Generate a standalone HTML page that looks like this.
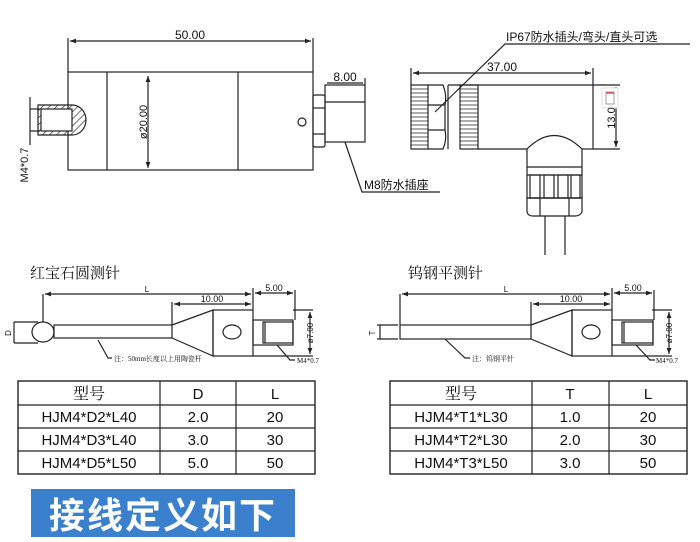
<!DOCTYPE html>
<html><head><meta charset="utf-8"><style>
html,body{margin:0;padding:0;background:#fff;}
svg{display:block;}
text{font-family:"Liberation Sans","Noto Sans CJK SC",sans-serif;fill:#111;}
.s{font-family:"Liberation Serif","Noto Serif CJK SC",serif;}
</style></head><body>
<svg width="700" height="542" viewBox="0 0 700 542" xmlns="http://www.w3.org/2000/svg">
<defs>
<pattern id="h" width="5" height="5" patternUnits="userSpaceOnUse" patternTransform="rotate(45)"><line x1="0" y1="0" x2="0" y2="5" stroke="#222" stroke-width="1.3"/></pattern>
<marker id="a" markerWidth="6" markerHeight="6" refX="5" refY="3" orient="auto-start-reverse"><path d="M0,1 L5,3 L0,5" fill="#222"/></marker>
</defs>
<g stroke="#222" stroke-width="1.2" fill="none">
<rect x="68" y="72" width="245" height="98"/>
<line x1="107" y1="72" x2="107" y2="170"/>
<line x1="238" y1="72" x2="238" y2="170"/>
<line x1="148" y1="76" x2="148" y2="168" marker-start="url(#a)" marker-end="url(#a)"/>
<circle cx="302" cy="122" r="4"/>
<line x1="68" y1="72" x2="68" y2="38"/><line x1="313" y1="72" x2="313" y2="38"/>
<line x1="70" y1="41" x2="311" y2="41" marker-start="url(#a)" marker-end="url(#a)"/>
<path d="M38,105 H72 A14,15 0 0 1 72,135 H38 Z" fill="url(#h)"/>
<rect x="41" y="109" width="31" height="22" fill="#fff"/>
<line x1="30" y1="97" x2="30" y2="145"/>
<line x1="30" y1="109" x2="40" y2="109"/><line x1="30" y1="131" x2="40" y2="131"/>
<rect x="313" y="95" width="12" height="52" rx="2"/>
<line x1="313" y1="108" x2="325" y2="108"/><line x1="313" y1="134" x2="325" y2="134"/>
<rect x="325" y="85" width="40" height="57"/>
<line x1="325" y1="102" x2="365" y2="102"/>
<line x1="365" y1="85" x2="365" y2="78"/>
<line x1="327" y1="83" x2="363" y2="83"/>
<polyline points="345,142 362,192 440,192"/>
<rect x="411" y="85" width="17" height="64"/>
<g stroke-width="0.8">
<line x1="411" y1="89" x2="428" y2="89"/><line x1="411" y1="93" x2="428" y2="93"/><line x1="411" y1="97" x2="428" y2="97"/><line x1="411" y1="101" x2="428" y2="101"/><line x1="411" y1="105" x2="428" y2="105"/><line x1="411" y1="109" x2="428" y2="109"/><line x1="411" y1="113" x2="428" y2="113"/><line x1="411" y1="117" x2="428" y2="117"/><line x1="411" y1="121" x2="428" y2="121"/><line x1="411" y1="125" x2="428" y2="125"/><line x1="411" y1="129" x2="428" y2="129"/><line x1="411" y1="133" x2="428" y2="133"/><line x1="411" y1="137" x2="428" y2="137"/><line x1="411" y1="141" x2="428" y2="141"/><line x1="411" y1="145" x2="428" y2="145"/>
<line x1="460" y1="89" x2="478" y2="89"/><line x1="460" y1="93" x2="478" y2="93"/><line x1="460" y1="97" x2="478" y2="97"/><line x1="460" y1="101" x2="478" y2="101"/><line x1="460" y1="105" x2="478" y2="105"/><line x1="460" y1="109" x2="478" y2="109"/><line x1="460" y1="113" x2="478" y2="113"/><line x1="460" y1="117" x2="478" y2="117"/><line x1="460" y1="121" x2="478" y2="121"/><line x1="460" y1="125" x2="478" y2="125"/><line x1="460" y1="129" x2="478" y2="129"/><line x1="460" y1="133" x2="478" y2="133"/><line x1="460" y1="137" x2="478" y2="137"/><line x1="460" y1="141" x2="478" y2="141"/><line x1="460" y1="145" x2="478" y2="145"/>
</g>
<rect x="460" y="85" width="18" height="64"/>
<path d="M428,85 H443 Q447,95 445,105 V130 Q447,140 443,149 H428"/>
<line x1="428" y1="105" x2="445" y2="105"/><line x1="428" y1="130" x2="445" y2="130"/>
<line x1="448" y1="85" x2="448" y2="149"/>
<line x1="448" y1="85" x2="593" y2="85"/><line x1="478" y1="149" x2="527" y2="149"/><line x1="582" y1="149" x2="593" y2="149"/>
<line x1="593" y1="85" x2="593" y2="149"/>
<line x1="593" y1="85" x2="620" y2="85"/><line x1="593" y1="149" x2="620" y2="149"/>
<line x1="616" y1="87" x2="616" y2="147" marker-end="url(#a)"/>
<line x1="411" y1="85" x2="411" y2="68"/><line x1="593" y1="85" x2="593" y2="68"/>
<line x1="413" y1="73" x2="591" y2="73" marker-start="url(#a)" marker-end="url(#a)"/>
<path d="M527,149 Q554,122 582,149 V198 H527 Z"/>
<line x1="527" y1="167" x2="582" y2="167"/>
<line x1="527" y1="175" x2="582" y2="175"/>
<rect x="530" y="175" width="10" height="23"/><rect x="544" y="175" width="10" height="23"/><rect x="558" y="175" width="10" height="23"/><rect x="571" y="175" width="9" height="23"/>
<path d="M527,198 H582 V212 Q580,216 575,216 H533 Q528,216 527,212 Z"/>
<line x1="540" y1="198" x2="540" y2="216"/><line x1="569" y1="198" x2="569" y2="216"/>
<path d="M545,216 V255 M565,216 V255"/>
<polyline points="435,112 505,44 690,44"/>
<ellipse cx="43" cy="332" rx="11" ry="10"/>
<rect x="54" y="325" width="118" height="13"/>
<path d="M172,325 L213,310 V356 L172,338"/>
<rect x="213" y="310" width="40" height="46"/>
<ellipse cx="232" cy="332" rx="9" ry="7"/>
<rect x="253" y="320" width="40" height="25"/>
<rect x="263" y="322" width="30" height="21"/>
<line x1="265" y1="322" x2="265" y2="343"/>
<line x1="43" y1="322" x2="43" y2="294"/>
<line x1="45" y1="294" x2="251" y2="294" marker-start="url(#a)" marker-end="url(#a)"/>
<line x1="172" y1="325" x2="172" y2="302"/><line x1="253" y1="310" x2="253" y2="288"/>
<line x1="174" y1="304" x2="251" y2="304" marker-start="url(#a)" marker-end="url(#a)"/>
<line x1="295" y1="320" x2="295" y2="290"/>
<line x1="255" y1="293" x2="293" y2="293" marker-start="url(#a)" marker-end="url(#a)"/>
<line x1="293" y1="310" x2="313" y2="310"/><line x1="253" y1="356" x2="313" y2="356"/>
<line x1="310" y1="312" x2="310" y2="354" marker-start="url(#a)" marker-end="url(#a)"/>
<line x1="14" y1="322" x2="38" y2="322"/><line x1="14" y1="343" x2="38" y2="343"/><line x1="14" y1="322" x2="14" y2="343"/>
<polyline points="98,340 108,358 112,358"/>
<polyline points="277,345 290,360 295,360"/>
<rect x="400" y="325" width="131" height="14"/>
<path d="M531,325 L572,310 V356 L531,339"/>
<rect x="572" y="310" width="40" height="46"/>
<ellipse cx="591" cy="332" rx="9" ry="7"/>
<rect x="612" y="320" width="41" height="25"/>
<rect x="622" y="322" width="31" height="21"/>
<line x1="624" y1="322" x2="624" y2="343"/>
<line x1="400" y1="325" x2="400" y2="294"/>
<line x1="402" y1="294" x2="610" y2="294" marker-start="url(#a)" marker-end="url(#a)"/>
<line x1="531" y1="325" x2="531" y2="302"/><line x1="612" y1="310" x2="612" y2="288"/>
<line x1="533" y1="304" x2="610" y2="304" marker-start="url(#a)" marker-end="url(#a)"/>
<line x1="654" y1="320" x2="654" y2="290"/>
<line x1="614" y1="293" x2="652" y2="293" marker-start="url(#a)" marker-end="url(#a)"/>
<line x1="652" y1="310" x2="672" y2="310"/><line x1="612" y1="356" x2="672" y2="356"/>
<line x1="669" y1="312" x2="669" y2="354" marker-start="url(#a)" marker-end="url(#a)"/>
<line x1="377" y1="325" x2="398" y2="325"/><line x1="377" y1="339" x2="398" y2="339"/><line x1="380" y1="325" x2="380" y2="339"/>
<polyline points="445,339 465,358 470,358"/>
<polyline points="636,345 650,360 655,360"/>
<rect x="18" y="381" width="297" height="93" stroke-width="1.4"/>
<line x1="18" y1="405" x2="315" y2="405"/><line x1="18" y1="428" x2="315" y2="428"/><line x1="18" y1="451" x2="315" y2="451"/>
<line x1="160" y1="381" x2="160" y2="474"/><line x1="236" y1="381" x2="236" y2="474"/>
<rect x="390" y="381" width="297" height="93" stroke-width="1.4"/>
<line x1="390" y1="405" x2="687" y2="405"/><line x1="390" y1="428" x2="687" y2="428"/><line x1="390" y1="451" x2="687" y2="451"/>
<line x1="532" y1="381" x2="532" y2="474"/><line x1="609" y1="381" x2="609" y2="474"/>
</g>
<rect x="602" y="88" width="16" height="20" fill="#fff" stroke="#ddd"/>
<rect x="606" y="92" width="8" height="12" fill="none" stroke="#888" stroke-width="0.8"/>
<line x1="606" y1="93" x2="614" y2="93" stroke="#d33" stroke-width="1.2"/>
<text x="190" y="39" font-size="12" text-anchor="middle">50.00</text>
<text x="345" y="81" font-size="12" text-anchor="middle">8.00</text>
<text x="147" y="122" font-size="11" text-anchor="middle" transform="rotate(-90 147 122)">ø20.00</text>
<text x="28" y="165" font-size="11" text-anchor="middle" transform="rotate(-90 28 165)">M4*0.7</text>
<text x="364" y="189" font-size="12">M8防水插座</text>
<text x="502" y="71" font-size="12" text-anchor="middle">37.00</text>
<text x="615" y="118" font-size="11" text-anchor="middle" transform="rotate(-90 615 118)">13.0</text>
<text x="506" y="41" font-size="12">IP67防水插头/弯头/直头可选</text>
<text x="30" y="278" font-size="15" class="s">红宝石圆测针</text>
<text x="408" y="278" font-size="15" class="s">钨钢平测针</text>
<text x="147" y="292" font-size="8" text-anchor="middle">L</text>
<text x="212" y="302" font-size="9" text-anchor="middle">10.00</text>
<text x="274" y="291" font-size="9" text-anchor="middle">5.00</text>
<text x="313" y="333" font-size="8" text-anchor="middle" transform="rotate(-90 313 333)">ø7.00</text>
<text x="11" y="333" font-size="8" text-anchor="middle" transform="rotate(-90 11 333)">D</text>
<text x="114" y="361" font-size="7" class="s">注：50mm长度以上用陶瓷杆</text>
<text x="297" y="363" font-size="7" class="s">M4*0.7</text>
<text x="506" y="292" font-size="8" text-anchor="middle">L</text>
<text x="571" y="302" font-size="9" text-anchor="middle">10.00</text>
<text x="633" y="291" font-size="9" text-anchor="middle">5.00</text>
<text x="672" y="333" font-size="8" text-anchor="middle" transform="rotate(-90 672 333)">ø7.00</text>
<text x="375" y="333" font-size="8" text-anchor="middle" transform="rotate(-90 375 333)">T</text>
<text x="472" y="361" font-size="7" class="s">注：钨钢平针</text>
<text x="656" y="363" font-size="7" class="s">M4*0.7</text>
<g font-size="15" text-anchor="middle">
<text x="89" y="399" class="s" font-size="16">型号</text><text x="198" y="399">D</text><text x="275" y="399">L</text>
<text x="89" y="422">HJM4*D2*L40</text><text x="198" y="422">2.0</text><text x="275" y="422">20</text>
<text x="89" y="445">HJM4*D3*L40</text><text x="198" y="445">3.0</text><text x="275" y="445">30</text>
<text x="89" y="468">HJM4*D5*L50</text><text x="198" y="468">5.0</text><text x="275" y="468">50</text>
<text x="461" y="399" class="s" font-size="16">型号</text><text x="570" y="399">T</text><text x="648" y="399">L</text>
<text x="461" y="422">HJM4*T1*L30</text><text x="570" y="422">1.0</text><text x="648" y="422">20</text>
<text x="461" y="445">HJM4*T2*L30</text><text x="570" y="445">2.0</text><text x="648" y="445">30</text>
<text x="461" y="468">HJM4*T3*L50</text><text x="570" y="468">3.0</text><text x="648" y="468">50</text>
</g>
<rect x="31" y="489" width="264" height="48" fill="#3a80cc"/>
<text x="163" y="528" font-size="36" font-weight="bold" text-anchor="middle" style="fill:#fff" letter-spacing="2">接线定义如下</text>
</svg>
</body></html>
